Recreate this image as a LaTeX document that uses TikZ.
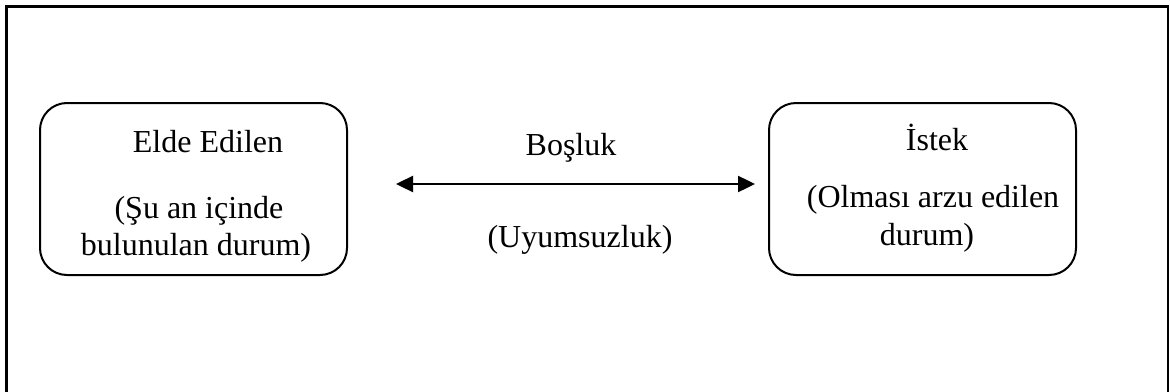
\documentclass[tikz,border=0pt]{standalone}
\usepackage{fontspec}
\setmainfont{Liberation Serif}
\usetikzlibrary{arrows.meta}
\begin{document}
\begin{tikzpicture}[x=0.5pt,y=-0.5pt,
  every node/.style={font=\fontsize{16}{19}\selectfont, inner sep=0pt},
  statebox/.style={draw, line width=1pt, rounded corners=13.5pt,
    minimum width=153.5pt, minimum height=86pt},
  txt/.style={anchor=base},
  gaparrow/.style={line width=1.2pt, {Triangle[length=8.5pt,width=8pt]}-{Triangle[length=8.5pt,width=8pt]}}]
  \useasboundingbox (0,0) rectangle (1170,391);
  \clip (0,0) rectangle (1170,391);
  % outer frame (runs past the lower edge)
  \draw[line width=1.3pt] (6.5,6.5) rectangle (1168,420);

  % the two states
  \node[statebox] (current) at (193.5,189) {};
  \node[statebox] (desired) at (922.5,189) {};

  \node[txt] (curT) at (208,152) {Elde Edilen};
  \node[txt] (curA) at (199,218) {(Şu an içinde};
  \node[txt] (curB) at (196,255) {bulunulan durum)};

  \node[txt] (desT) at (937,150) {İstek};
  \node[txt] (desA) at (933,207) {(Olması arzu edilen};
  \node[txt] (desB) at (927,245) {durum)};

  % the gap between them
  \coordinate (gapL) at (396,184);
  \coordinate (gapR) at (755,184);
  \draw[gaparrow] (gapL) -- (gapR);
  \node[txt] (gapT) at (571,155) {Boşluk};
  \node[txt] (gapB) at (580,247) {(Uyumsuzluk)};
\end{tikzpicture}
\end{document}
